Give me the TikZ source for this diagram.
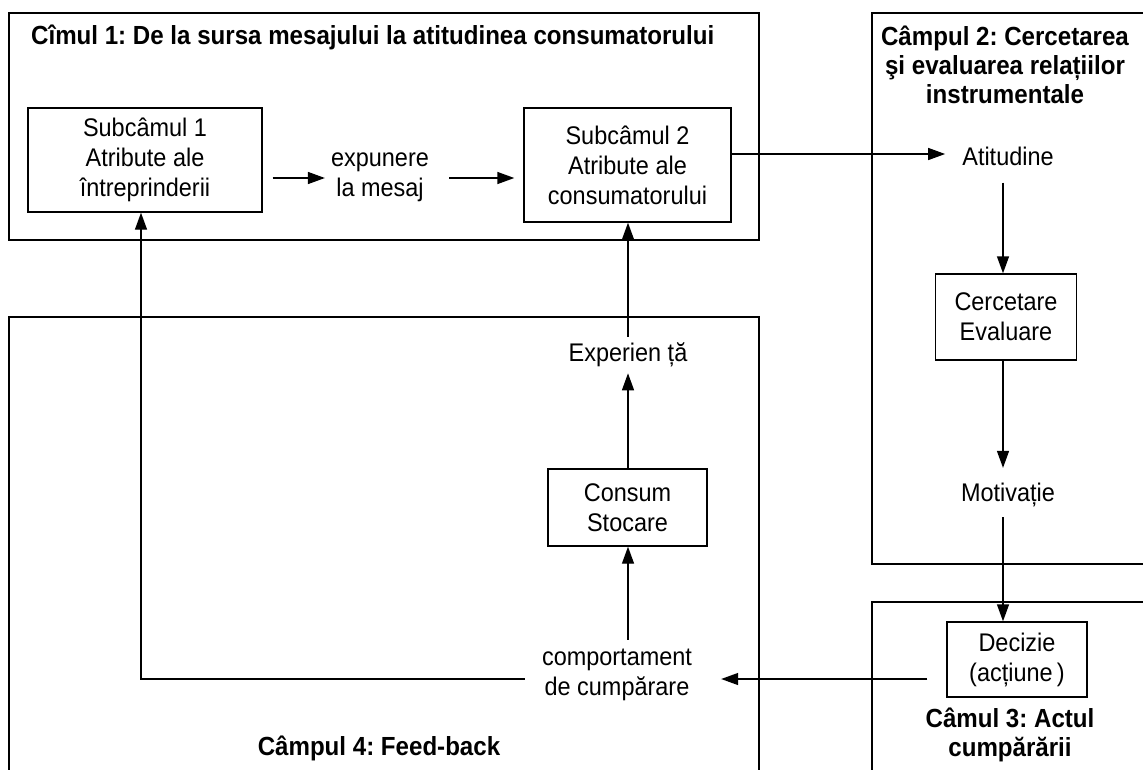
\documentclass[tikz,border=0pt]{standalone}
\usepackage{fontspec}
\setmainfont{Liberation Sans}[FakeStretch=0.92]
\usetikzlibrary{arrows.meta}
\frenchspacing
\tikzset{
  lbl/.style={font=\fontsize{25.5}{30}\selectfont, align=center, inner sep=3pt},
  ttl/.style={font=\fontsize{26.2}{29}\selectfont\bfseries, align=center, inner sep=0pt},
  box/.style={lbl, draw, line width=1.4pt},
  ln/.style={line width=1.4pt},
  arr/.style={ln, -{Triangle[length=17pt,width=12pt]}},
  field/.style={line width=1.8pt}
}
\begin{document}
\begin{tikzpicture}[x=1pt,y=1pt]
\useasboundingbox (0,0) rectangle (1143,-769);
% the four fields (right and bottom sides run off the page)
\begin{scope}
  \clip (0,0) rectangle (1143,-769);
  \draw[field] (9,-13) rectangle (759,-240);
  \draw[field] (872,-13) rectangle (1170,-564);
  \draw[field] (872,-602) rectangle (1170,-800);
  \draw[field] (9,-317) rectangle (759,-800);
\end{scope}

% field titles
\node[ttl, anchor=west] (t1) at (31,-37) {Cîmul 1: De la sursa mesajului la atitudinea consumatorului};
\node[ttl] (t2) at (1005,-65) {Câmpul 2: Cercetarea\\şi evaluarea relațiilor\\instrumentale};
\node[ttl] (t3) at (1010,-735) {Câmul 3: Actul\\cumpărării};
\node[ttl] (t4) at (379,-748) {Câmpul 4: Feed-back};

% boxes and labels
\node[box, minimum width=234pt, minimum height=104pt] (b1) at (145,-160) {Subcâmul 1\\Atribute ale\\întreprinderii};
\node[lbl] (exp) at (380,-177.5) {expunere\\la mesaj};
\node[box, minimum width=207pt, minimum height=114pt] (b2) at (627.5,-165) {Subcâmul 2\\Atribute ale\\consumatorului};
\node[lbl] (atit) at (1008,-156) {Atitudine};
\node[box, minimum width=141pt, minimum height=86pt] (cer) at (1006,-317) {Cercetare\\Evaluare};
\node[lbl] (mot) at (1008,-495) {Motivație};
\node[box, minimum width=140pt, minimum height=75pt] (dec) at (1017,-659.5) {Decizie\\(acțiune\,)};
\node[lbl] (comp) at (617,-675) {comportament\\de cumpărare};
\node[box, minimum width=159pt, minimum height=77pt] (con) at (627.5,-507.5) {Consum\\Stocare};
\node[lbl] (expr) at (628,-355) {Experien ță};

% guide rows and columns for the connectors
\coordinate (rowA) at (0,-178);
\coordinate (rowB) at (0,-154);
\coordinate (rowD) at (0,-679);
\coordinate (colC) at (1003,0);
\coordinate (colE) at (628,0);

% field 1
\draw[arr] ([xshift=10pt]b1.east |- rowA) -- ([xshift=-3pt]exp.west |- rowA);
\draw[arr] ([xshift=17pt]exp.east |- rowA) -- ([xshift=-9pt]b2.west |- rowA);
\draw[arr] (b2.east |- rowB) -- ([xshift=-14pt]atit.west |- rowB);

% field 2 and 3
\draw[arr] ([yshift=-14pt]atit.south -| colC) -- (cer.north -| colC);
\draw[arr] (cer.south -| colC) -- ([yshift=12pt]mot.north -| colC);
\draw[arr] ([yshift=-7pt]mot.south -| colC) -- (dec.north -| colC);
\draw[arr] ([xshift=-19pt]dec.west |- rowD) -- ([xshift=26pt]comp.east |- rowD);

% field 4: feed-back loop
\draw[arr] ([xshift=-14pt]comp.west |- rowD) -| ([xshift=-4pt]b1.south);
\draw[arr] ([yshift=6pt]comp.north -| colE) -- (con.south -| colE);
\draw[arr] (con.north -| colE) -- ([yshift=-3pt]expr.south -| colE);
\draw[arr] ([yshift=3pt]expr.north -| colE) -- (b2.south -| colE);
\end{tikzpicture}
\end{document}
